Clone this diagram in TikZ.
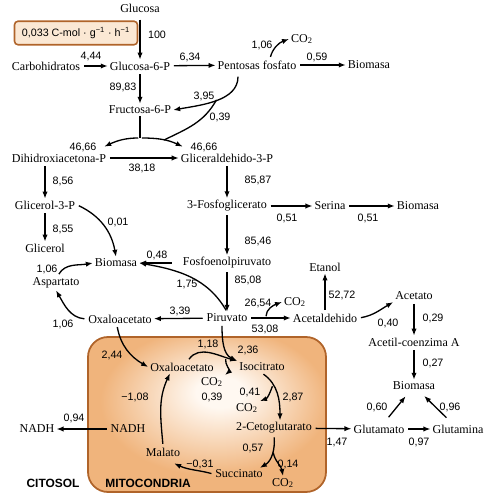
\documentclass[tikz,border=0pt]{standalone}
\usepackage{fontspec}
\setmainfont{Liberation Serif}
\setsansfont{Liberation Sans}
\usetikzlibrary{arrows.meta}
\definecolor{mitofill}{HTML}{F0B47C}
\definecolor{mitoglow}{HTML}{FFF8F1}
\definecolor{mitoedge}{HTML}{B0642A}
\definecolor{ratefill}{HTML}{FBE8D4}
\pgfdeclareradialshading{mitoshade}{\pgfpoint{3bp}{8bp}}{color(0bp)=(mitoglow); color(5bp)=(mitoglow); color(24bp)=(mitofill); color(50bp)=(mitofill)}

\begin{document}
\begin{tikzpicture}[x=0.02cm,y=0.02cm,>={Latex[length=4pt,width=3pt]},
    sp/.style={font=\rmfamily\fontsize{6.85}{8}\selectfont,inner sep=1pt},
    num/.style={font=\sffamily\fontsize{6.1}{7}\selectfont,inner sep=0.5pt},
    flow/.style={->,line width=0.75pt,shorten <=1pt},
    pipe/.style={line width=0.75pt},
    zone/.style={font=\sffamily\bfseries\fontsize{6.8}{8}\selectfont}]
    \useasboundingbox (0,0) rectangle (500,500);
    \shadedraw[shading=mitoshade,draw=mitoedge,line width=1pt,rounded corners=0.4cm] (88,8) rectangle (326,163);
    \node[draw=mitoedge,fill=ratefill,rounded corners=2pt,line width=0.9pt,minimum width=2.46cm,minimum height=0.4cm,
      font=\sffamily\fontsize{6.1}{7}\selectfont] (rate) at (76,467) {0,033 C-mol · g\textsuperscript{−1} · h\textsuperscript{−1}};

    \node[sp] (glc) at (140,492) {Glucosa};
    \node[sp] (carb) at (46,434) {Carbohidratos};
    \node[sp] (g6p) at (140,434) {Glucosa-6-P};
    \node[sp] (ppp) at (257,435) {Pentosas fosfato};
    \node[sp] (co2a) at (302,461) {CO\textsubscript{2}};
    \node[sp] (bioA) at (369,435) {Biomasa};
    \node[sp] (f6p) at (140,390) {Fructosa-6-P};
    \node[sp] (dhap) at (59,342) {Dihidroxiacetona-P};
    \node[sp] (gap) at (227,342) {Gliceraldehido-3-P};
    \node[sp] (g3p) at (45,295) {Glicerol-3-P};
    \node[sp] (glyc) at (45,252) {Glicerol};
    \node[sp] (bioB) at (116,237) {Biomasa};
    \node[sp] (pga) at (227,294) {3-Fosfoglicerato};
    \node[sp] (ser) at (330,294) {Serina};
    \node[sp] (bioC) at (418,294) {Biomasa};
    \node[sp] (pep) at (227,237) {Fosfoenolpiruvato};
    \node[sp] (asp) at (56,217) {Aspartato};
    \node[sp] (oaa) at (120,181) {Oxaloacetato};
    \node[sp] (pyr) at (227,182) {Piruvato};
    \node[sp] (co2b) at (295,198) {CO\textsubscript{2}};
    \node[sp] (acald) at (325,182) {Acetaldehido};
    \node[sp] (etoh) at (325,233) {Etanol};
    \node[sp] (ace) at (414,204) {Acetato};
    \node[sp] (accoa) at (414,158) {Acetil-coenzima A};
    \node[sp] (bioD) at (414,114) {Biomasa};
    \node[sp] (glu) at (379,71) {Glutamato};
    \node[sp] (gln) at (458,71) {Glutamina};
    \node[sp] (akg) at (274,72) {2-Cetoglutarato};
    \node[sp] (nadhc) at (37,71) {NADH};
    \node[sp] (nadhm) at (128,71) {NADH};
    \node[sp] (oaam) at (182,133) {Oxaloacetato};
    \node[sp] (icit) at (262,133) {Isocitrato};
    \node[sp] (co2c) at (212,118) {CO\textsubscript{2}};
    \node[sp] (co2d) at (247,92) {CO\textsubscript{2}};
    \node[sp] (mal) at (163,48) {Malato};
    \node[sp] (succ) at (239,26) {Succinato};
    \node[sp] (co2e) at (283,17) {CO\textsubscript{2}};
    \node[zone] (citosol) at (53,17) {CITOSOL};
    \node[zone] (mito) at (148,17) {MITOCONDRIA};

    \foreach \x/\y/\v [count=\i] in {157/465/100, 91/443/{4,44}, 190/443/{6,34}, 262/455/{1,06}, 317/443/{0,59},
      123/413/{89,83}, 204/404/{3,95}, 220/383/{0,39}, 83/353/{46,66}, 204/353/{46,66}, 142/332/{38,18},
      63/319/{8,56}, 63/271/{8,55}, 118/278/{0,01}, 258/320/{85,87}, 287/282/{0,51}, 368/282/{0,51},
      258/259/{85,46}, 157/245/{0,48}, 187/215/{1,75}, 248/220/{85,08}, 47/231/{1,06}, 63/176/{1,06},
      180/189/{3,39}, 258/197/{26,54}, 265/171/{53,08}, 342/205/{52,72}, 388/177/{0,40}, 433/182/{0,29},
      433/137/{0,27}, 377/93/{0,60}, 450/93/{0,96}, 419/58/{0,97}, 337/58/{1,47}, 74/82/{0,94},
      112/145/{2,44}, 208/156/{1,18}, 248/150/{2,36}, 212/103/{0,39}, 250/108/{0,41}, 293/103/{2,87},
      135/103/{−1,08}, 253/52/{0,57}, 288/36/{0,14}, 200/36/{−0,31}}
      \node[num] (v\i) at (\x,\y) {\v};

    \coordinate (jtop) at (140,362);
    \draw[flow,shorten <=3pt] (glc) -- (g6p);
    \draw[flow] (carb) -- (g6p);
    \draw[flow] (g6p) -- (ppp);
    \draw[flow] (ppp) -- (bioA);
    \draw[flow] ([xshift=0.26cm]ppp.north) to[out=75,in=200] (co2a.west);
    \draw[flow] (g6p) -- (f6p);
    \draw[flow,shorten <=3pt] ([xshift=-0.38cm]ppp.south) to[out=-90,in=10] coordinate[pos=0.5] (j1) (f6p.east);
    \draw[pipe] (f6p) -- (jtop);
    \draw[flow] (jtop) to[out=180,in=25] ([shift={(-4,5)}]dhap.north east);
    \draw[flow] (jtop) to[out=0,in=155] coordinate[pos=0.55] (j2) ([shift={(4,5)}]gap.north west);
    \draw[pipe] (j1) to[out=-119,in=26] (j2);
    \draw[flow] (dhap) -- (gap);
    \draw[flow] (g3p |- dhap.south) -- (g3p);
    \draw[flow] (g3p) -- (glyc);
    \draw[flow] (g3p.east) to[out=-25,in=100] (bioB.north);
    \draw[flow] (gap) -- (pga);
    \draw[flow] (pga) -- (ser);
    \draw[flow] (ser) -- (bioC);
    \draw[flow] (pga) -- (pep);
    \draw[flow] (pep) -- (pyr);
    \draw[flow,shorten <=5pt] (pep.west) -- (bioB.east);
    \draw[flow] (pyr.north) to[out=120,in=-10] (bioB.east);
    \draw[flow] ([xshift=0.04cm]asp.north) to[out=60,in=190] (bioB.west);
    \draw[flow] (oaa.west) to[out=175,in=-60] (asp.south);
    \draw[flow] (pyr) -- (oaa);
    \draw[flow] (pyr) -- coordinate[pos=0.4] (jc) (acald);
    \draw[flow] (jc) to[out=90,in=200] (co2b.west);
    \draw[flow] (acald) -- (etoh);
    \draw[flow] (acald.east) to[out=10,in=210] (ace.south west);
    \draw[flow] (ace) -- (accoa);
    \draw[flow] (accoa) -- (bioD);
    \draw[flow,shorten <=4pt,shorten >=3pt] (glu) -- (bioD);
    \draw[flow,shorten <=4pt,shorten >=3pt] (gln) -- (bioD);
    \draw[flow] (akg) -- (glu);
    \draw[flow] (glu) -- (gln);
    \draw[flow] (nadhm) -- (nadhc);

    \draw[flow] ([xshift=-0.06cm]oaa.south) to[out=-80,in=150] (oaam.west);
    \draw[flow] ([xshift=0.12cm]oaam.north) to[out=55,in=165] coordinate[pos=0.8] (jd) (icit.north west);
    \draw[flow] ([xshift=-0.1cm]pyr.south) to[out=-90,in=155] (icit.north west);
    \draw[flow] (jd) to[out=-100,in=40] (co2c.north east);
    \draw[flow] (icit.south) to[out=-35,in=90] coordinate[pos=0.3] (je) ([xshift=0.12cm]akg.north);
    \draw[flow] (je) to[out=-110,in=20] (co2d.north east);
    \draw[flow] (akg.south) to[out=-85,in=30] coordinate[pos=0.4] (jf) ([xshift=-0.1cm]succ.north east);
    \draw[flow] (jf) to[out=-80,in=100] (co2e.north);
    \draw[flow] (succ.west) to[out=165,in=-25] ([shift={(-8,-5)}]mal.south east);
    \draw[flow] (mal.north) to[out=95,in=-115] ([xshift=-0.24cm]oaam.south);
\end{tikzpicture}
\end{document}
